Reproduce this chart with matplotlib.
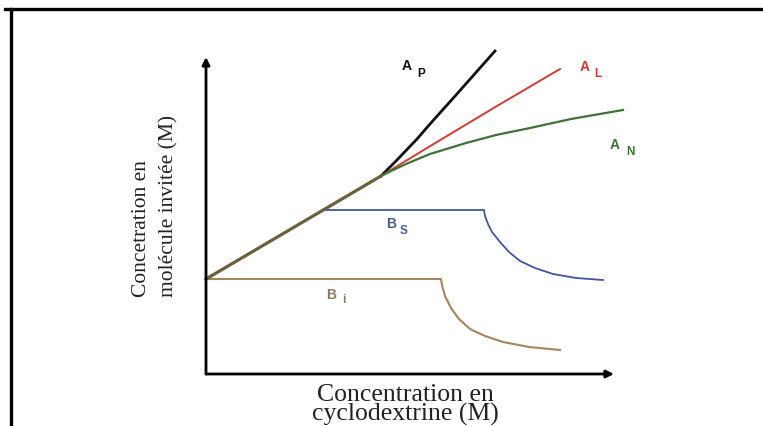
import matplotlib
matplotlib.use("Agg")
import matplotlib.pyplot as plt
from matplotlib.lines import Line2D

# Solubility phase diagram (Higuchi-Connors types), arbitrary units
shared_x = [0.0, 17.5]
shared_y = [9.5, 19.8]

ap_x = [17.5, 19.0, 21.1, 22.4, 25.0, 28.9]
ap_y = [19.8, 21.3, 23.5, 25.0, 27.9, 32.3]

al_x = [17.5, 22.6, 29.1, 35.4]
al_y = [19.8, 22.9, 26.8, 30.5]

an_x = [17.5, 18.5, 20.0, 22.4, 26.0, 29.0, 32.4, 36.5, 41.7]
an_y = [19.8, 20.3, 21.0, 22.0, 23.1, 23.9, 24.6, 25.5, 26.4]

bs_x = [11.7, 27.8, 27.9, 28.2, 28.6, 29.4, 30.3, 31.4, 32.9, 34.7, 37.0, 39.7]
bs_y = [16.4, 16.4, 15.8, 15.0, 14.2, 13.2, 12.2, 11.3, 10.6, 10.0, 9.6, 9.4]

bi_x = [0.0, 23.5, 23.6, 23.9, 24.5, 25.3, 26.4, 27.9, 29.7, 32.3, 35.4]
bi_y = [9.5, 9.5, 8.9, 7.8, 6.6, 5.5, 4.5, 3.8, 3.2, 2.7, 2.4]

x_max = 40.8
y_max = 31.7

W, H = 763, 427
fig = plt.figure(figsize=(W / 100, H / 100), dpi=100)

# outer frame (top and left edges only visible)
fig.add_artist(Line2D([5 / W, 1.0], [1 - 10 / H, 1 - 10 / H], color="black", lw=2.4,
                      transform=fig.transFigure))
fig.add_artist(Line2D([10.5 / W, 10.5 / W], [0.0, 1 - 10 / H], color="black", lw=2.4,
                      transform=fig.transFigure))

ax = fig.add_axes([206 / W, 1 - 375 / H, (614 - 206) / W, (375 - 58) / H])
ax.set_xlim(0, x_max)
ax.set_ylim(0, y_max)
ax.axis("off")

# axes with arrow heads
arrow = dict(arrowstyle="-|>", lw=2.0, color="black", mutation_scale=11,
             shrinkA=0, shrinkB=0)
ax.annotate("", xy=(1, 0), xytext=(0, 0), xycoords="axes fraction", arrowprops=arrow)
ax.annotate("", xy=(0, 1), xytext=(0, 0), xycoords="axes fraction", arrowprops=arrow)

ax.plot(bi_x, bi_y, color="#a6855a", lw=1.5, clip_on=False)
ax.plot(bs_x, bs_y, color="#4255a3", lw=1.3, clip_on=False)
ax.plot(ap_x, ap_y, color="#111111", lw=2.0, clip_on=False)
ax.plot(al_x, al_y, color="#d13b33", lw=1.4, clip_on=False)
ax.plot(an_x, an_y, color="#3d7436", lw=1.6, clip_on=False)
ax.plot(shared_x, shared_y, color="#6b5f3d", lw=2.3, clip_on=False)

# curve labels: main letter + subscript
lab = dict(family="Liberation Sans", fontweight="bold", ha="center", va="center")
for (x0, y0, main, x1, y1, sub, col) in [
    (20.05, 30.9, "A", 21.55, 30.05, "P", "#111111"),
    (37.9, 30.8, "A", 39.2, 30.05, "L", "#d13b33"),
    (40.9, 23.0, "A", 42.4, 22.25, "N", "#3d7436"),
    (18.55, 15.1, "B", 19.8, 14.35, "S", "#4a5a96"),
    (12.55, 8.0, "B", 13.75, 7.5, "i", "#8a7a62"),
]:
    ax.text(x0, y0, main, color=col, fontsize=10, **lab)
    ax.text(x1, y1, sub, color=col, fontsize=8.5, **lab)

serif = "Liberation Serif"
fig.text(155 / W, 1 - 297 / H, "Concetration en\nmolécule invitée (M)",
         rotation=90, ha="center", va="bottom", multialignment="left",
         family=serif, fontsize=15.5, color="#222222", linespacing=1.55)
fig.text(405 / W, 1 - 405 / H, "Concentration en\ncyclodextrine (M)",
         ha="center", va="center", family=serif, fontsize=18.5, color="#222222",
         linespacing=0.82)

fig.savefig("out.png", dpi=100)
